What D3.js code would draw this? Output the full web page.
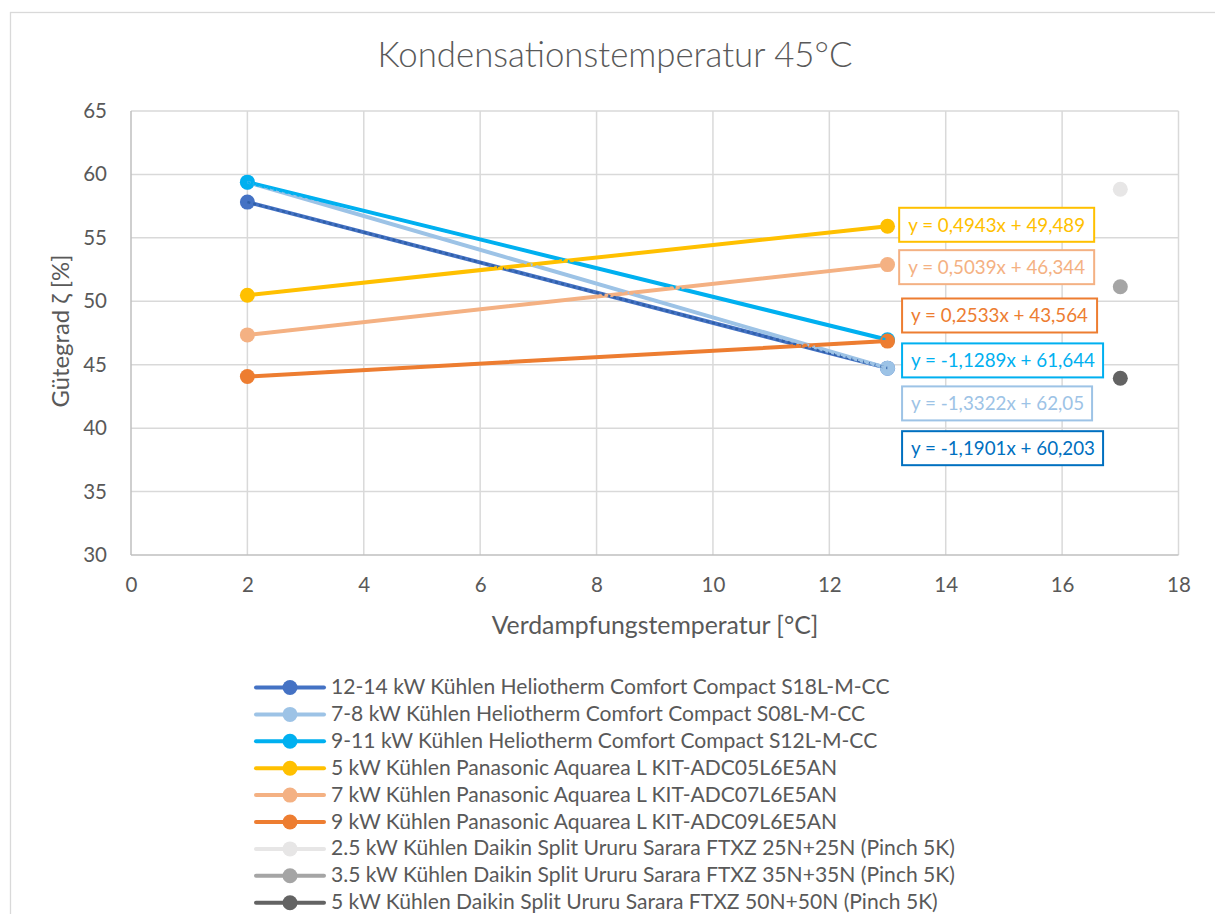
<!DOCTYPE html>
<html><head><meta charset="utf-8">
<script src="https://cdn.jsdelivr.net/npm/d3@7"></script>
<style>
html,body{margin:0;padding:0;background:#fff;}
svg{display:block;font-family:Lato,"Open Sans",sans-serif;}
</style></head>
<body><svg id="c" width="1215" height="914"></svg>
<script>
// ---- data ----
const title = "Kondensationstemperatur 45°C";
const xTitle = "Verdampfungstemperatur [°C]";
const yTitle = "Gütegrad ζ [%]";
const xTicks = [0, 2, 4, 6, 8, 10, 12, 14, 16, 18];
const yTicks = [30, 35, 40, 45, 50, 55, 60, 65];
const seriesNames = [
  "12-14 kW Kühlen Heliotherm Comfort Compact S18L-M-CC",
  "7-8 kW Kühlen Heliotherm Comfort Compact S08L-M-CC",
  "9-11 kW Kühlen Heliotherm Comfort Compact S12L-M-CC",
  "5 kW Kühlen Panasonic Aquarea L KIT-ADC05L6E5AN",
  "7 kW Kühlen Panasonic Aquarea L KIT-ADC07L6E5AN",
  "9 kW Kühlen Panasonic Aquarea L KIT-ADC09L6E5AN",
  "2.5 kW Kühlen Daikin Split Ururu Sarara FTXZ 25N+25N (Pinch 5K)",
  "3.5 kW Kühlen Daikin Split Ururu Sarara FTXZ 35N+35N (Pinch 5K)",
  "5 kW Kühlen Daikin Split Ururu Sarara FTXZ 50N+50N (Pinch 5K)"
];
const xHelio = [2, 13];
const xDaikin = [17];
const helio1214 = [57.82, 44.73];
const helio0708 = [59.39, 44.73];
const helio0911 = [59.39, 46.97];
const pana05 = [50.48, 55.92];
const pana07 = [47.35, 52.89];
const pana09 = [44.07, 46.86];
const daikin25 = [58.83];
const daikin35 = [51.15];
const daikin50 = [43.93];
const trendEquations = [
  "y = -1,1901x + 60,203",
  "y = -1,3322x + 62,05",
  "y = -1,1289x + 61,644",
  "y = 0,4943x + 49,489",
  "y = 0,5039x + 46,344",
  "y = 0,2533x + 43,564"
];

// ---- styles / layout ----
const colors = ["#4472C4","#9DC3E6","#00B0F0","#FFC000","#F4B183","#ED7D31","#E7E6E6","#A5A5A5","#636363"];
const trendColors = ["#0070C0","#9DC3E6","#00B0F0","#FFC000","#F4B183","#ED7D31"];
// label boxes: [left x (data), centre y (data), box width px]
const labelPos = [
  [13.25, 38.42, 201],
  [13.25, 41.95, 190],
  [13.25, 45.34, 201],
  [13.2, 56.03, 195],
  [13.2, 52.69, 195],
  [13.25, 48.88, 195]
];

const series = [
  {x: xHelio, y: helio1214},
  {x: xHelio, y: helio0708},
  {x: xHelio, y: helio0911},
  {x: xHelio, y: pana05},
  {x: xHelio, y: pana07},
  {x: xHelio, y: pana09},
  {x: xDaikin, y: daikin25},
  {x: xDaikin, y: daikin35},
  {x: xDaikin, y: daikin50}
];

const svg = d3.select("#c");
const L = 131, R = 1178.5, T = 111, B = 555;
const x = d3.scaleLinear().domain([0, 18]).range([L, R]);
const y = d3.scaleLinear().domain([30, 65]).range([B, T]);

function fit(sel, target) {
  const w = sel.node().getComputedTextLength();
  const fs = parseFloat(sel.attr("font-size"));
  sel.attr("font-size", fs * target / w);
}

// outer frame
svg.append("rect").attr("x", 10.5).attr("y", 12.5).attr("width", 1215).attr("height", 914)
  .attr("fill", "#fff").attr("stroke", "#D9D9D9").attr("stroke-width", 1.3);

// gridlines
const g = svg.append("g");
g.selectAll(".vg").data(xTicks.filter(d => d > 0)).enter().append("line")
  .attr("x1", d => x(d)).attr("x2", d => x(d)).attr("y1", T).attr("y2", B)
  .attr("stroke", "#D9D9D9").attr("stroke-width", 1.5);
g.selectAll(".hg").data(yTicks.filter(d => d > 30)).enter().append("line")
  .attr("x1", L).attr("x2", R).attr("y1", d => y(d)).attr("y2", d => y(d))
  .attr("stroke", "#D9D9D9").attr("stroke-width", 1.5);
// axes lines
g.append("line").attr("x1", L).attr("x2", L).attr("y1", T).attr("y2", B).attr("stroke", "#BFBFBF").attr("stroke-width", 1.5);
g.append("line").attr("x1", L).attr("x2", R).attr("y1", B).attr("y2", B).attr("stroke", "#BFBFBF").attr("stroke-width", 1.5);

// tick labels via d3 axes
const xAxis = svg.append("g").attr("transform", `translate(0,${B})`)
  .call(d3.axisBottom(x).tickValues(xTicks).tickSize(0).tickPadding(22).tickFormat(d3.format("d")));
const yAxis = svg.append("g").attr("transform", `translate(${L},0)`)
  .call(d3.axisLeft(y).tickValues(yTicks).tickSize(0).tickPadding(24).tickFormat(d3.format("d")));
[xAxis, yAxis].forEach(a => {
  a.select(".domain").remove();
  a.selectAll("text").attr("font-family", "Lato").attr("font-size", 20.5).attr("fill", "#595959");
});
xAxis.selectAll("text").attr("dy", "0.71em");

// title
const tt = svg.append("text").attr("x", 615).attr("y", 67).attr("text-anchor", "middle")
  .attr("font-size", 30).attr("font-weight", 300).attr("fill", "#595959").text(title);
fit(tt, 475);
const xt = svg.append("text").attr("x", 655).attr("y", 634).attr("text-anchor", "middle")
  .attr("font-size", 22).attr("fill", "#595959").text(xTitle);
fit(xt, 327);
const yt = svg.append("text").attr("transform", `translate(69,331) rotate(-90)`).attr("text-anchor", "middle")
  .attr("font-size", 22).attr("fill", "#595959").text(yTitle);
fit(yt, 153);

// series
const line = d3.line().x(d => x(d[0])).y(d => y(d[1]));
const sg = svg.append("g");
series.forEach((s, i) => {
  const pts = s.x.map((xv, j) => [xv, s.y[j]]);
  if (pts.length > 1) {
    sg.append("path").datum(pts).attr("d", line).attr("fill", "none")
      .attr("stroke", colors[i]).attr("stroke-width", 4).attr("stroke-linecap", "round");
  }
  sg.selectAll(null).data(pts).enter().append("circle")
    .attr("cx", d => x(d[0])).attr("cy", d => y(d[1])).attr("r", 7.5).attr("fill", colors[i]);
});
// trendlines (dotted), computed by least squares on the series
series.slice(0, 6).forEach((s, i) => {
  const mx = d3.mean(s.x), my = d3.mean(s.y);
  const b = d3.sum(s.x.map((xv, j) => (xv - mx) * (s.y[j] - my))) / d3.sum(s.x.map(xv => (xv - mx) ** 2));
  const a = my - b * mx;
  const ext = d3.extent(s.x);
  const pts = ext.map(xv => [xv, a + b * xv]);
  sg.append("path").datum(pts).attr("d", line).attr("fill", "none")
    .attr("stroke", i === 0 ? "#2F5FA8" : trendColors[i]).attr("stroke-width", 2.5)
    .attr("stroke-dasharray", "3 3").attr("stroke-linecap", "butt");
});

// trend equation labels
const lg = svg.append("g");
trendEquations.forEach((eq, i) => {
  const [lx, ly, bw] = labelPos[i];
  const px = x(lx), py = y(ly);
  lg.append("rect").attr("x", px).attr("y", py - 17).attr("width", bw).attr("height", 34)
    .attr("fill", "#fff").attr("stroke", trendColors[i]).attr("stroke-width", 2);
  const t = lg.append("text").attr("x", px + 9).attr("y", py + 7).attr("font-size", 19)
    .attr("fill", trendColors[i]).text(eq);
  if (i === 3) fit(t, 177);
});
const fsEq = lg.selectAll("text").filter((d, i) => i === 3).attr("font-size");
lg.selectAll("text").attr("font-size", fsEq);

// legend
const leg = svg.append("g");
const legRowY = i => 687.5 + i * 26.9;
seriesNames.forEach((nm, i) => {
  const yy = legRowY(i);
  leg.append("line").attr("x1", 256).attr("x2", 324).attr("y1", yy).attr("y2", yy)
    .attr("stroke", colors[i]).attr("stroke-width", 4).attr("stroke-linecap", "round");
  leg.append("circle").attr("cx", 290).attr("cy", yy).attr("r", 7.5).attr("fill", colors[i]);
  const t = leg.append("text").attr("x", 331).attr("y", yy + 6.5).attr("font-size", 19)
    .attr("fill", "#595959").text(nm);
  if (i === 0) fit(t, 559);
});
const fsLeg = leg.selectAll("text").filter((d, i) => i === 0).attr("font-size");
leg.selectAll("text").attr("font-size", fsLeg);
</script>
</body></html>
